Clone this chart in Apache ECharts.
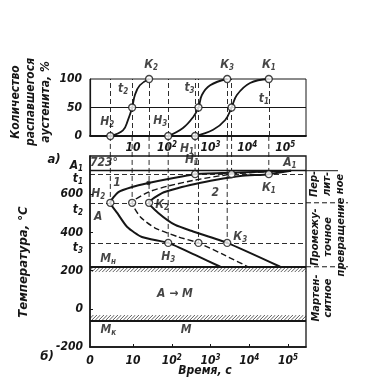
<!DOCTYPE html>
<html><head><meta charset="utf-8">
<script src="https://cdn.jsdelivr.net/npm/echarts@6/dist/echarts.min.js"></script>
<style>html,body{margin:0;padding:0;background:#fff}#c{width:375px;height:386px}</style>
</head><body><div id="c"></div>
<script>
// ---------- DATA ----------
// upper diagram: amount of decomposed austenite (%) vs time (s) at t2, t3, t1
const kinT2Time = [2.6, 5.5, 7.4, 9.5, 11.2, 15, 26];
const kinT2Pct  = [0, 10, 28, 50, 72, 89, 100];
const kinT3Time = [81, 195, 355, 490, 600, 980, 2700];
const kinT3Pct  = [0, 14, 33, 50, 72, 89, 100];
const kinT1Time = [400, 1170, 2400, 3500, 4800, 10500, 32000];
const kinT1Pct  = [0, 11, 28, 50, 72, 93, 100];

// key temperatures, °C
const tempA1 = 723, tempT1 = 705, tempT2 = 555, tempT3 = 345, tempMn = 220, tempMk = -60;

// lower diagram: C-curves (time s, temperature °C)
const startTime = [120000, 20000, 3200, 400, 81, 25, 9.5, 4.2, 2.6, 3.9, 7.1, 17, 81, 400, 1800];
const startTemp = [723, 718, 712, 705, 680, 659, 638, 611, 555, 502, 428, 376, 345, 282, 220];
const halfTime  = [120000, 20000, 3500, 400, 81, 25, 9.5, 15.5, 37, 150, 490, 2000, 9300];
const halfTemp  = [723, 716, 705, 674, 643, 611, 555, 481, 423, 376, 345, 287, 220];
const endTime   = [120000, 32000, 5900, 1300, 400, 148, 56, 26, 45, 123, 355, 2700, 63000];
const endTemp   = [723, 705, 695, 674, 653, 632, 606, 555, 502, 439, 405, 345, 220];

// key points (start / 50% / end) at t2, t3, t1
const keyLetter = ['Н','t','К','Н','t','К','Н','t','К'];
const keySub    = ['2','2','2','3','3','3','1','1','1'];
const keyTime   = [2.6, 9.5, 26, 81, 490, 2700, 400, 3500, 32000];
const keyTemp   = [555, 555, 555, 345, 345, 345, 705, 705, 705];
const keyPct    = [0, 50, 100, 0, 50, 100, 0, 50, 100];

// tick labels
const pctTicks  = [0, 50, 100];
const tempTicks = [600, 400, 200, 0, -200];
const timeDecades = [1, 2, 3, 4, 5];

// ---------- STYLE / LAYOUT ----------
const FONT = '"Liberation Sans Narrow","DejaVu Sans Condensed","Liberation Sans",Arial,sans-serif';
const INK = '#161616';
const X_MIN = -0.11, X_MAX = 5.465;
const GAP_TOP_TEMP = 905;
const lg = v => Math.log10(v);
const txt = s => ({fontFamily: FONT, fontStyle: 'italic', fontWeight: 'bold', fontSize: s, color: INK});
const RICH = {
  b: Object.assign(txt(12), {lineHeight: 14}),
  s: Object.assign(txt(8), {lineHeight: 8, verticalAlign: 'bottom'}),
  p: Object.assign(txt(8), {lineHeight: 8, verticalAlign: 'top'})
};
const sub = (a, s) => `{b|${a}}{s|${s}}`;
function timeLabel(v) {
  if (v < 0.5) return '{b|0}';
  const k = Math.round(v);
  return k === 1 ? '{b|10}' : `{b|10}{p|${k}}`;
}
const pairs = (ts, vs) => ts.map((t, i) => [lg(t), vs[i]]);

// lower y axis: key temperature labels sit a little off their lines
const keyTempLabelSpec = [[tempA1 + 27, sub('A', '1')], [tempT1 - 25, sub('t', '1')],
                          [tempT2 - 38, sub('t', '2')], [tempT3 - 27, sub('t', '3')]];
const yLabelValues = keyTempLabelSpec.map(d => d[0]).concat(tempTicks);
function tempLabel(v) {
  const f = keyTempLabelSpec.find(d => d[0] === v);
  return f ? f[1] : `{b|${v}}`;
}

const upperLabelPos = [['top',[-3,0]],['top',[-9,-4]],['top',[2,0]],['top',[-8,-1]],['top',[-9,-5]],
                       ['top',[0,0]],['bottom',[-8,-1]],['right',[20,-9]],['top',[0,0]]];
const lowerLabelPos = [['left',[2,-9]],null,['right',[-1,2]],['bottom',[0,0]],null,
                       ['right',[-1,-6]],['top',[-3,0]],null,['bottom',[0,0]]];

const circleStyle = {color: '#fff', borderColor: INK, borderWidth: 1.3};

const upperPoints = keyTime.map((t, i) => ({
  value: [lg(t), keyPct[i]],
  label: {show: true, position: upperLabelPos[i][0], offset: upperLabelPos[i][1], distance: 3,
          formatter: sub(keyLetter[i], keySub[i]), rich: RICH}
}));
const lowerPoints = keyTime.map((t, i) => ({
  value: [lg(t), keyTemp[i]],
  label: lowerLabelPos[i] ? {show: true, position: lowerLabelPos[i][0], offset: lowerLabelPos[i][1], distance: 3,
          formatter: sub(keyLetter[i], keySub[i]), rich: RICH} : {show: false}
}));

const annotations = [
  ['{b|723°}', 0.25, 763], [sub('A','1'), 5.05, 763], ['{b|1}', 0.59, 659], ['{b|2}', 3.12, 606],
  ['{b|А}', 0.10, 481], [sub('М','н'), 0.36, 261], ['{b|А → М}', 2.08, 77],
  [sub('М','к'), 0.36, -111], ['{b|М}', 2.37, -111]
].map(a => ({value: [a[1], a[2]], label: {formatter: a[0]}}));

function hatchItem(params, api) {
  const yLine = api.value(1), yOther = api.value(2);
  const pL = api.coord([X_MIN, yLine]), pR = api.coord([X_MAX, yLine]), pO = api.coord([X_MIN, yOther]);
  const top = Math.min(pL[1], pO[1]), bot = Math.max(pL[1], pO[1]), h = bot - top;
  const children = [];
  for (let x = pL[0] - h; x < pR[0]; x += 3.5) {
    children.push({type: 'line', shape: {x1: x, y1: bot, x2: x + h, y2: top},
                   style: {stroke: INK, lineWidth: 0.7}});
  }
  return {type: 'group', children,
          clipPath: {type: 'rect', shape: {x: pL[0], y: top, width: pR[0] - pL[0], height: h}}};
}
function connectorItem(params, api) {
  const p1 = api.coord([api.value(0), GAP_TOP_TEMP]);
  const p2 = api.coord([api.value(0), api.value(1)]);
  return {type: 'line', shape: {x1: p1[0], y1: p1[1], x2: p2[0], y2: p2[1]},
          style: {stroke: INK, lineWidth: 0.9, lineDash: [5, 3]}};
}

const axisLineStyle = w => ({show: true, onZero: false, lineStyle: {color: INK, width: w}});
const dashLine = {color: INK, width: 0.9, type: [5, 3]};

const option = {
  animation: false,
  backgroundColor: '#fff',
  grid: [
    {left: 90, top: 79, width: 216, height: 57, show: true, borderColor: INK, borderWidth: 1},
    {left: 90, top: 156, width: 216, height: 191, show: true, borderColor: INK, borderWidth: 1.3}
  ],
  xAxis: [
    {gridIndex: 0, type: 'value', min: X_MIN, max: X_MAX, axisLine: axisLineStyle(1.8),
     axisTick: {show: false}, splitLine: {show: false},
     axisLabel: Object.assign(txt(12), {customValues: [1, 1.88, 3, 3.95, 4.93], formatter: timeLabel, margin: 5, rich: RICH})},
    {gridIndex: 1, type: 'value', min: X_MIN, max: X_MAX, axisLine: axisLineStyle(1.5),
     axisTick: {show: true, inside: true, length: 3, customValues: timeDecades, lineStyle: {color: INK}},
     splitLine: {show: false},
     axisLabel: Object.assign(txt(12), {customValues: [X_MIN].concat(timeDecades), formatter: timeLabel, margin: 7, rich: RICH})}
  ],
  yAxis: [
    {gridIndex: 0, type: 'value', min: 0, max: 100, axisLine: axisLineStyle(1.2),
     axisTick: {show: false}, splitLine: {show: false},
     axisLabel: Object.assign(txt(12), {customValues: pctTicks, margin: 8})},
    {gridIndex: 1, type: 'value', min: -200, max: 800, axisLine: axisLineStyle(1.5),
     axisTick: {show: true, inside: true, length: 3, customValues: [600, 400, 200, 0], lineStyle: {color: INK}},
     splitLine: {show: false},
     axisLabel: Object.assign(txt(12), {customValues: yLabelValues, formatter: tempLabel, margin: 7, rich: RICH})}
  ],
  series: [
    // upper kinetic curves
    {type: 'line', xAxisIndex: 0, yAxisIndex: 0, data: pairs(kinT2Time, kinT2Pct), smooth: 0.4, symbol: 'none',
     lineStyle: {color: INK, width: 1.8},
     markLine: {silent: true, symbol: 'none', label: {show: false},
       data: keyTime.map(t => ({xAxis: lg(t), lineStyle: dashLine})).concat([{yAxis: 50, lineStyle: {color: INK, width: 1, type: 'solid'}}])}},
    {type: 'line', xAxisIndex: 0, yAxisIndex: 0, data: pairs(kinT3Time, kinT3Pct), smooth: 0.4, symbol: 'none',
     lineStyle: {color: INK, width: 1.8}},
    {type: 'line', xAxisIndex: 0, yAxisIndex: 0, data: pairs(kinT1Time, kinT1Pct), smooth: 0.4, symbol: 'none',
     lineStyle: {color: INK, width: 1.8}},
    {type: 'scatter', xAxisIndex: 0, yAxisIndex: 0, data: upperPoints, symbol: 'circle', symbolSize: 7,
     itemStyle: circleStyle, z: 5},
    // lower: hatching and connectors
    {type: 'custom', xAxisIndex: 1, yAxisIndex: 1, renderItem: hatchItem, silent: true,
     data: [[X_MIN, tempMn, tempMn - 28], [X_MIN, tempMk, tempMk + 28]], encode: {x: 0, y: 1}},
    {type: 'custom', xAxisIndex: 1, yAxisIndex: 1, renderItem: connectorItem, silent: true,
     data: keyTime.map((t, i) => [lg(t), keyTemp[i]]), encode: {x: 0, y: 1}},
    // C-curves
    {type: 'line', xAxisIndex: 1, yAxisIndex: 1, data: pairs(startTime, startTemp), smooth: 0.2, symbol: 'none',
     lineStyle: {color: INK, width: 2},
     markLine: {silent: true, symbol: 'none', label: {show: false}, data: [
       {yAxis: tempA1, lineStyle: {color: INK, width: 1.3, type: 'solid'}},
       {yAxis: tempT1, lineStyle: dashLine},
       {yAxis: tempT2, lineStyle: dashLine},
       {yAxis: tempT3, lineStyle: dashLine},
       {yAxis: tempMn, lineStyle: {color: INK, width: 2.2, type: 'solid'}},
       {yAxis: tempMk, lineStyle: {color: INK, width: 2.2, type: 'solid'}}
     ]}},
    {type: 'line', xAxisIndex: 1, yAxisIndex: 1, data: pairs(halfTime, halfTemp), smooth: 0.2, symbol: 'none',
     lineStyle: {color: INK, width: 1.4, type: [6, 3]}},
    {type: 'line', xAxisIndex: 1, yAxisIndex: 1, data: pairs(endTime, endTemp), smooth: 0.2, symbol: 'none',
     lineStyle: {color: INK, width: 2}},
    {type: 'scatter', xAxisIndex: 1, yAxisIndex: 1, data: lowerPoints, symbol: 'circle', symbolSize: 7,
     itemStyle: circleStyle, z: 5},
    {type: 'scatter', xAxisIndex: 1, yAxisIndex: 1, data: [[lg(startTime[5]), startTemp[5]]], symbol: 'circle',
     symbolSize: 4.5, itemStyle: {color: INK}, z: 5},
    {type: 'scatter', xAxisIndex: 1, yAxisIndex: 1, data: annotations, symbol: 'circle', symbolSize: 1,
     itemStyle: {color: 'rgba(0,0,0,0)'}, z: 6,
     label: {show: true, position: 'inside', rich: RICH}}
  ]
};

const gText = (text, x, y, size, rot, lh) => ({
  type: 'text', x, y, rotation: rot || 0, z: 10,
  style: {text, fill: INK, fontFamily: FONT, fontStyle: 'italic', fontWeight: 'bold', fontSize: size,
          align: 'center', verticalAlign: 'middle', textAlign: 'center', textVerticalAlign: 'middle',
          lineHeight: lh || size + 2}
});
const staticGraphics = [
  gText('Количество\nраспавшегося\nаустенита, %', 31, 102, 12, Math.PI / 2, 15),
  gText('Температура, °С', 24, 262, 13, Math.PI / 2),
  gText('а)', 54, 160, 13),
  gText('б)', 47, 357, 13),
  gText('Время, с', 205, 371, 12),
  gText('Пер-\nлит-\nное', 327, 184, 11, Math.PI / 2, 13),
  gText('Промежу-\nточное\nпревращение', 328, 237, 11, Math.PI / 2, 13),
  gText('Мартен-\nситное', 322, 298, 11, Math.PI / 2, 12)
];
option.graphic = staticGraphics;

const chart = echarts.init(document.getElementById('c'), null, {renderer: 'canvas'});
chart.setOption(option);

// separators continuing to the right of the frame, placed via the axis scales
function ext(T, dashed, len) {
  const p = chart.convertToPixel({gridIndex: 1}, [X_MAX, T]);
  return {type: 'line', z: 10, shape: {x1: p[0], y1: p[1], x2: p[0] + len, y2: p[1]},
          style: {stroke: INK, lineWidth: 1, lineDash: dashed ? [5, 3] : null}};
}
chart.setOption({graphic: staticGraphics.concat([ext(tempA1, false, 32), ext(tempT2, true, 42), ext(tempMn, true, 42)])});
</script></body></html>
